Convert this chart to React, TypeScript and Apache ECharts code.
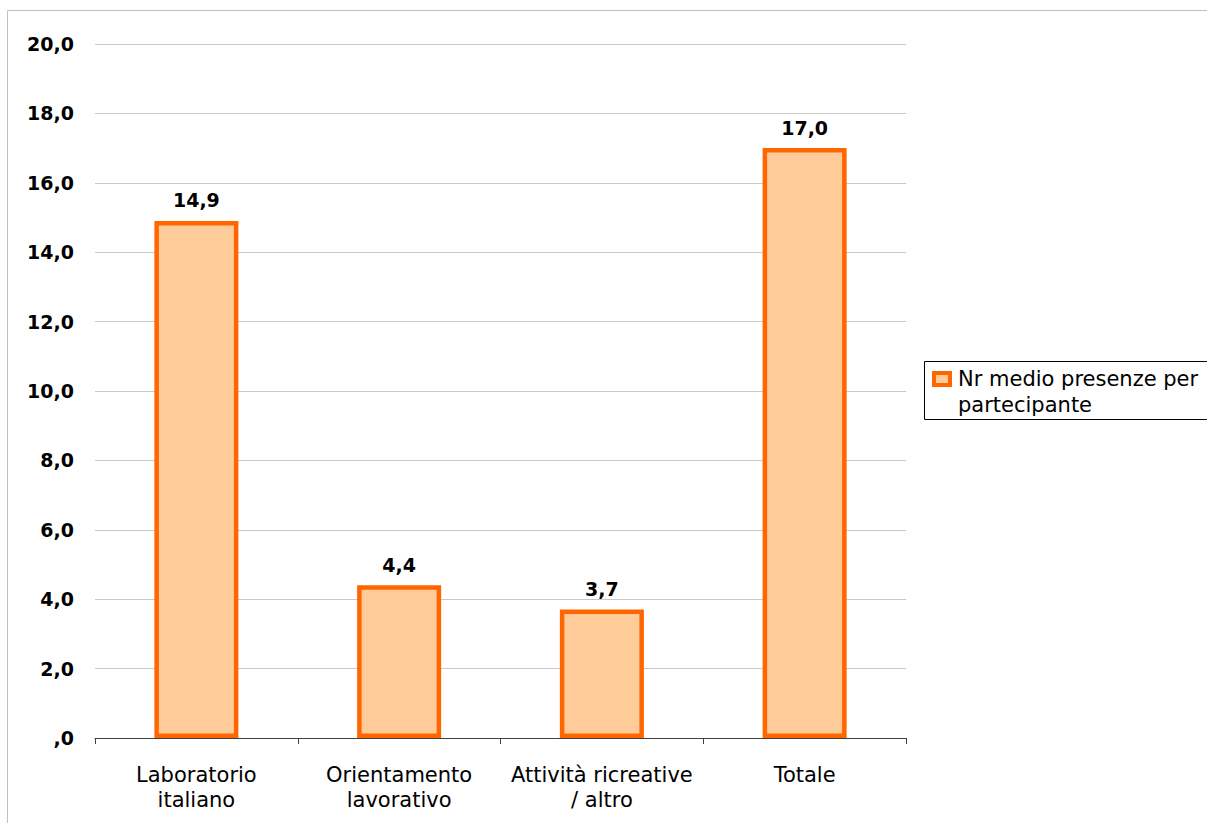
import React, { useEffect, useRef } from "react";
import * as echarts from "echarts";

const categories = ["Laboratorio\nitaliano", "Orientamento\nlavorativo", "Attività ricreative\n/ altro", "Totale"];
const values = [14.9, 4.4, 3.7, 17.0];
const seriesName = "Nr medio presenze per\npartecipante";
const yMin = 0;
const yMax = 20;
const yInterval = 2;

const fmt = (v: number) => {
  const s = v.toFixed(1).replace(".", ",");
  return s.startsWith("0,") ? s.slice(1) : s;
};

export default function App() {
  const ref = useRef<HTMLDivElement>(null);
  useEffect(() => {
    const chart = echarts.init(ref.current!, undefined, { renderer: "svg" });
    const font = "'DejaVu Sans', Verdana, sans-serif";
    chart.setOption({
      animation: false,
      backgroundColor: "#ffffff",
      textStyle: { fontFamily: font },
      grid: { left: 95, right: 301, top: 44, bottom: 85, containLabel: false },
      xAxis: {
        type: "category",
        data: categories,
        axisLine: { show: true, lineStyle: { color: "#404040", width: 1 } },
        axisTick: { show: true, length: 6, alignWithLabel: false, lineStyle: { color: "#404040" } },
        axisLabel: { color: "#000", fontSize: 21, fontFamily: font, lineHeight: 25, margin: 24, interval: 0 },
      },
      yAxis: {
        type: "value",
        min: yMin,
        max: yMax,
        interval: yInterval,
        axisLine: { show: false },
        axisTick: { show: false },
        splitLine: { lineStyle: { color: "#c8c8c8", width: 1 } },
        axisLabel: { color: "#000", fontSize: 19, fontWeight: "bold", fontFamily: font, margin: 21, formatter: (v: number) => fmt(v) },
      },
      series: [
        {
          type: "bar",
          name: seriesName,
          data: values,
          barWidth: 84,
          itemStyle: { color: "#FFCC99", borderColor: "#FF6600", borderWidth: 4.5 },
          label: {
            show: true,
            position: "top",
            distance: 11,
            color: "#000",
            fontSize: 19,
            fontWeight: "bold",
            fontFamily: font,
            formatter: (p: any) => fmt(p.value),
          },
        },
      ],
      graphic: [
        {
          type: "rect",
          shape: { x: 7.5, y: 10.5, width: 1220, height: 840 },
          style: { fill: "none", stroke: "#c0c0c0", lineWidth: 1 },
          silent: true,
        },
        {
          type: "rect",
          shape: { x: 924.5, y: 361.5, width: 300, height: 58 },
          style: { fill: "#fff", stroke: "#000", lineWidth: 1 },
          silent: true,
        },
        {
          type: "rect",
          shape: { x: 934, y: 373, width: 16, height: 12 },
          style: { fill: "#FFCC99", stroke: "#FF6600", lineWidth: 4 },
          silent: true,
        },
        {
          type: "text",
          x: 958,
          y: 366,
          style: { text: seriesName, fill: "#000", fontSize: 21, fontFamily: font, lineHeight: 26 },
          silent: true,
        },
      ],
    });
    return () => chart.dispose();
  }, []);
  return <div ref={ref} style={{ position: "fixed", left: 0, top: 0, width: 1207, height: 823 }} />;
}
